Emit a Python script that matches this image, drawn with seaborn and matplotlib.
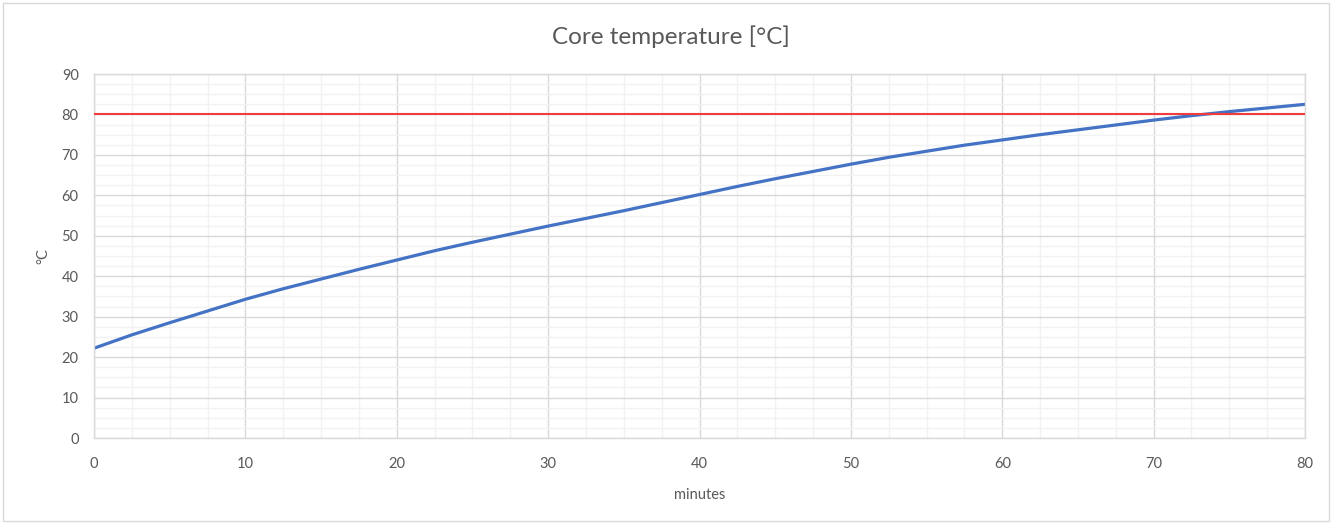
import numpy as np
import pandas as pd
import matplotlib
matplotlib.use('Agg')
import matplotlib.pyplot as plt
import seaborn as sns
from matplotlib.ticker import MultipleLocator
from matplotlib.patches import Rectangle

# values (every 2.5 minutes)
minutes = [0, 2.5, 5, 7.5, 10, 12.5, 15, 17.5, 20, 22.5, 25, 27.5, 30, 32.5, 35, 37.5,
           40, 42.5, 45, 47.5, 50, 52.5, 55, 57.5, 60, 62.5, 65, 67.5, 70, 72.5, 75, 77.5, 80]
core_temp = [22.2, 25.5, 28.5, 31.4, 34.3, 36.9, 39.3, 41.7, 44.0, 46.3, 48.4, 50.4, 52.4, 54.3, 56.2, 58.2,
             60.2, 62.2, 64.1, 65.9, 67.7, 69.4, 70.9, 72.4, 73.7, 75.0, 76.2, 77.4, 78.6, 79.7, 80.7, 81.6, 82.5]
target_temp = 80

sns.set_theme(style='white')
plt.rcParams['font.family'] = ['Lato', 'DejaVu Sans']

df = pd.DataFrame({'minutes': minutes, 'temp': core_temp})

fig = plt.figure(figsize=(13.36, 5.23), dpi=100)
ax = fig.add_axes([94/1336, 1 - 438/523, (1305 - 94)/1336, (438 - 74)/523])

sns.lineplot(data=df, x='minutes', y='temp', ax=ax, color='#4472C4', linewidth=2.3)
ax.axhline(target_temp, color='#F03C3C', linewidth=1.5, zorder=3)

ax.set_xlim(0, 80)
ax.set_ylim(0, 90)
ax.xaxis.set_major_locator(MultipleLocator(10))
ax.yaxis.set_major_locator(MultipleLocator(10))
ax.xaxis.set_minor_locator(MultipleLocator(2.5))
ax.yaxis.set_minor_locator(MultipleLocator(2.5))
ax.grid(which='major', color='#D9D9D9', linewidth=1.0)
ax.grid(which='minor', color='#F2F2F2', linewidth=1.0)
ax.set_axisbelow(True)
ax.tick_params(which='both', length=0, labelsize=10.5, colors='#595959')
ax.tick_params(axis='x', pad=14)
ax.tick_params(axis='y', pad=11)

for s in ax.spines.values():
    s.set_color('#D9D9D9')
    s.set_linewidth(1.0)

fig.suptitle('Core temperature [°C]', x=671/1336, y=1 - 37/523, va='center',
             fontsize=17.5, color='#595959')
ax.set_xlabel('minutes', fontsize=10.5, color='#595959', labelpad=12)
ax.set_ylabel('°C', fontsize=10.5, color='#595959', labelpad=8)

fig.patches.append(Rectangle((0.002, 0.004), 0.993, 0.99, transform=fig.transFigure,
                             fill=False, edgecolor='#D9D9D9', linewidth=1.0))

fig.savefig('out.png', dpi=100)
